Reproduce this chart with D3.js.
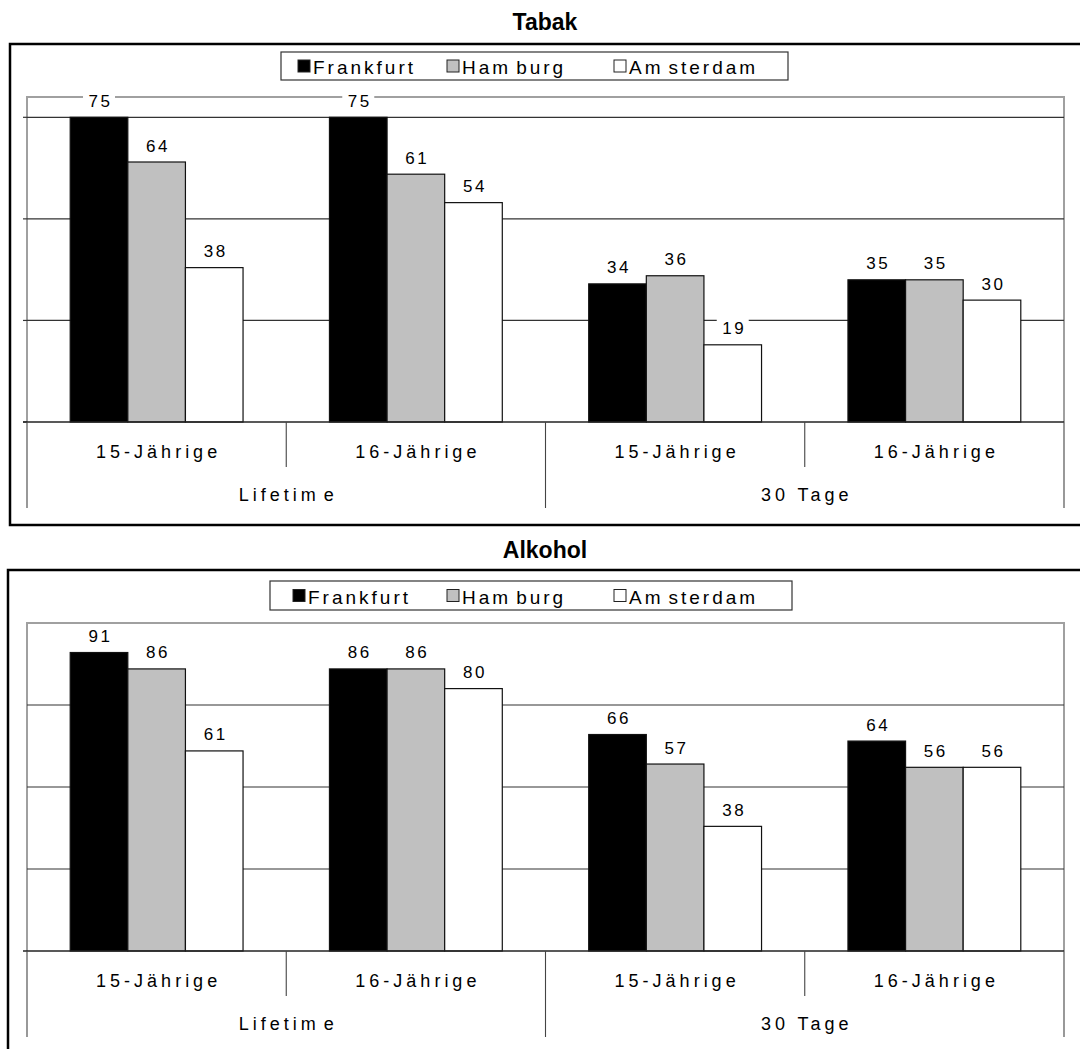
<!DOCTYPE html>
<html>
<head>
<meta charset="utf-8">
<script src="https://cdn.jsdelivr.net/npm/d3@7"></script>
<style>
  body { margin: 0; background: #fff; }
  svg { display: block; }
  text { font-family: Arial, "Liberation Sans", sans-serif; fill: #000; }
</style>
</head>
<body>
<svg id="chart" width="1080" height="1049"></svg>
<script>
// ---- data ----
const seriesNames = ["Frankfurt", "Hamburg", "Amsterdam"];
const ageLabels = ["15-Jährige", "16-Jährige", "15-Jährige", "16-Jährige"];
const periodLabels = ["Lifetime", "30 Tage"];

const tabakFrankfurt = [75, 75, 34, 35];
const tabakHamburg   = [64, 61, 36, 35];
const tabakAmsterdam = [38, 54, 19, 30];

const alkoholFrankfurt = [91, 86, 66, 64];
const alkoholHamburg   = [86, 86, 57, 56];
const alkoholAmsterdam = [61, 80, 38, 56];

const tabakGridTicks = [25, 50, 75];
const alkoholGridTicks = [25, 50, 75];

const seriesFill = ["#000000", "#c0c0c0", "#ffffff"];

// ---- layout of the two panels ----
const panels = [
  {
    title: "Tabak", titleY: 30,
    box: { x: 10, y: 44, w: 1080, h: 481 },
    plot: { x0: 27, x1: 1064, top: 97, base: 422 },
    yMax: 80, grid: tabakGridTicks, leftTicks: true,
    legend: { x: 281, y: 52, w: 507, h: 28, items: [17, 166, 333] },
    values: [tabakFrankfurt, tabakHamburg, tabakAmsterdam]
  },
  {
    title: "Alkohol", titleY: 558,
    box: { x: 8, y: 570, w: 1080, h: 500 },
    plot: { x0: 27, x1: 1064, top: 623, base: 951 },
    yMax: 100, grid: alkoholGridTicks, leftTicks: false,
    legend: { x: 270, y: 581, w: 522, h: 29, items: [23, 177, 344] },
    values: [alkoholFrankfurt, alkoholHamburg, alkoholAmsterdam]
  }
];

const svg = d3.select("#chart");

// Text with the wide glyph spacing of the source charts; a small extra gap follows each inner "m".
function spacedText(sel, str, gap) {
  const parts = str.split(/(?<=m)(?=.)/);
  parts.forEach((p, i) => {
    sel.append("tspan").attr("dx", i === 0 ? 0 : gap).text(p);
  });
  return sel;
}

function drawPanel(p) {
  const g = svg.append("g");

  // title
  g.append("text")
    .attr("x", 545).attr("y", p.titleY)
    .attr("text-anchor", "middle")
    .style("font-size", "23px").style("font-weight", "bold")
    .text(p.title);

  // outer frame
  g.append("rect")
    .attr("x", p.box.x).attr("y", p.box.y)
    .attr("width", p.box.w).attr("height", p.box.h)
    .attr("fill", "none").attr("stroke", "#000").attr("stroke-width", 2.5);

  const x0 = d3.scaleBand().domain(d3.range(ageLabels.length))
    .range([p.plot.x0, p.plot.x1]).paddingInner(0).paddingOuter(0);
  const x1 = d3.scaleBand().domain(d3.range(seriesNames.length))
    .range([0, x0.bandwidth()]).paddingInner(0).paddingOuter(0.75);
  const y = d3.scaleLinear().domain([0, p.yMax]).range([p.plot.base, p.plot.top]);

  // plot area border (top, left, right) in grey
  g.append("path")
    .attr("d", `M${p.plot.x0},${p.plot.base}V${p.plot.top}H${p.plot.x1}V${p.plot.base}`)
    .attr("fill", "none").attr("stroke", "#a0a0a0").attr("stroke-width", 2);

  // value gridlines
  g.selectAll(".grid").data(p.grid).enter().append("line")
    .attr("x1", p.plot.x0).attr("x2", p.plot.x1)
    .attr("y1", d => y(d)).attr("y2", d => y(d))
    .attr("stroke", "#333").attr("stroke-width", 1.2);

  if (p.leftTicks) {
    g.selectAll(".ltick").data([0].concat(p.grid)).enter().append("line")
      .attr("x1", p.plot.x0 - 4).attr("x2", p.plot.x0)
      .attr("y1", d => y(d)).attr("y2", d => y(d))
      .attr("stroke", "#333").attr("stroke-width", 1.2);
  }

  // bars
  const groups = g.selectAll(".grp").data(ageLabels).enter().append("g")
    .attr("transform", (d, i) => `translate(${x0(i)},0)`);
  groups.each(function (d, gi) {
    const gg = d3.select(this);
    seriesNames.forEach((s, si) => {
      const v = p.values[si][gi];
      gg.append("rect")
        .attr("x", x1(si)).attr("y", y(v))
        .attr("width", x1.bandwidth()).attr("height", y(0) - y(v))
        .attr("fill", seriesFill[si]).attr("stroke", "#111").attr("stroke-width", 1.2);
    });
  });

  // value labels on a white ground
  groups.each(function (d, gi) {
    const gg = d3.select(this);
    seriesNames.forEach((s, si) => {
      const v = p.values[si][gi];
      const cx = x1(si) + x1.bandwidth() / 2;
      const bg = gg.append("rect").attr("fill", "#fff");
      const t = gg.append("text")
        .attr("x", cx + 1.5).attr("y", y(v) - 16)
        .attr("text-anchor", "middle").attr("dominant-baseline", "central")
        .style("font-size", "17px").style("letter-spacing", "2.6px")
        .text(v);
      const bb = t.node().getBBox();
      bg.attr("x", cx - 16).attr("y", bb.y - 1)
        .attr("width", 32).attr("height", bb.height + 2);
    });
  });

  // category axis
  g.append("line")
    .attr("x1", p.plot.x0 - 4).attr("x2", p.plot.x1)
    .attr("y1", p.plot.base).attr("y2", p.plot.base)
    .attr("stroke", "#222").attr("stroke-width", 1.5);

  const innerTicks = [1, 3].map(i => x0(i));
  const outerTicks = [0, 2, 4].map(i => i < 4 ? x0(i) : p.plot.x1);
  g.selectAll(".itick").data(innerTicks).enter().append("line")
    .attr("x1", d => d).attr("x2", d => d)
    .attr("y1", p.plot.base).attr("y2", p.plot.base + 45)
    .attr("stroke", "#444").attr("stroke-width", 1.1);
  g.selectAll(".otick").data(outerTicks).enter().append("line")
    .attr("x1", d => d).attr("x2", d => d)
    .attr("y1", p.plot.base).attr("y2", p.plot.base + 86)
    .attr("stroke", "#444").attr("stroke-width", 1.1);

  ageLabels.forEach((lab, i) => {
    spacedText(g.append("text")
      .attr("x", x0(i) + x0.bandwidth() / 2 + 2).attr("y", p.plot.base + 30)
      .attr("text-anchor", "middle").attr("dominant-baseline", "central")
      .style("font-size", "18px").style("letter-spacing", "4px"), lab, 4);
  });
  periodLabels.forEach((lab, i) => {
    spacedText(g.append("text")
      .attr("x", x0(i * 2 + 1) + 2).attr("y", p.plot.base + 73)
      .attr("text-anchor", "middle").attr("dominant-baseline", "central")
      .style("font-size", "18px").style("letter-spacing", "4px"), lab, 4);
  });

  // legend
  const L = p.legend;
  const lg = g.append("g").attr("transform", `translate(${L.x},${L.y})`);
  lg.append("rect").attr("width", L.w).attr("height", L.h)
    .attr("fill", "#fff").attr("stroke", "#333").attr("stroke-width", 1.2);
  seriesNames.forEach((s, si) => {
    const ox = L.items[si];
    lg.append("rect")
      .attr("x", ox).attr("y", L.h / 2 - 6)
      .attr("width", 12).attr("height", 12)
      .attr("fill", seriesFill[si]).attr("stroke", "#222").attr("stroke-width", 1);
    spacedText(lg.append("text")
      .attr("x", ox + 15).attr("y", L.h / 2 + 1)
      .attr("dominant-baseline", "central")
      .style("font-size", "19px").style("letter-spacing", "3px"), s, 5);
  });
}

panels.forEach(drawPanel);
</script>
</body>
</html>
